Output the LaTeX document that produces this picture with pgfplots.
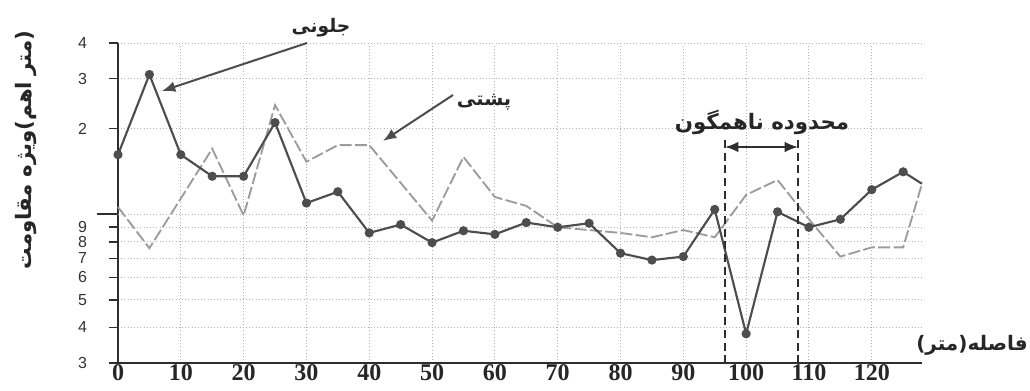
\documentclass[border=0pt]{standalone}
\usepackage{pgfplots}
\pgfplotsset{compat=1.18}
\usepackage{fontspec}
\usetikzlibrary{arrows.meta}
\TeXXeTstate=1
\setmainfont{Liberation Serif}
\newfontfamily\sansf{Liberation Sans}
\newfontfamily\arabicfont[Script=Arabic]{DejaVu Sans}
\newfontfamily\plainfont{DejaVu Sans}
\newcommand{\lp}{\hbox{\plainfont\bfseries(}}
\newcommand{\rp}{\hbox{\plainfont\bfseries)}}
\definecolor{darkline}{HTML}{4D4D4D}
\definecolor{lightline}{HTML}{9C9C9C}
\definecolor{axiscol}{HTML}{2E2E2E}
\pgfplotstableread{
x y
0 16.2
5 31
10 16.2
15 13.6
20 13.6
25 21
30 10.95
35 12
40 8.6
45 9.2
50 7.95
55 8.75
60 8.5
65 9.35
70 9.0
75 9.3
80 7.3
85 6.9
90 7.1
95 10.4
100 3.8
105 10.2
110 9.0
115 9.6
120 12.2
125 14.1
128 12.8
}\jelowi
\pgfplotstableread{
x y
0 10.6
5 7.6
15 17
20 9.9
25 24.2
30 15.3
35 17.5
40 17.5
50 9.5
55 15.9
60 11.5
65 10.7
70 9.0
75 8.8
80 8.6
85 8.3
90 8.8
95 8.3
100 11.7
105 13.2
110 9.6
115 7.1
120 7.65
125 7.65
128 12.8
}\poshti
\begin{document}
\begin{tikzpicture}
\begin{axis}[
  at={(0,0)}, anchor=south west,
  scale only axis, width=603pt, height=240pt,
  xmin=0, xmax=128, ymin=3, ymax=40, ymode=log,
  axis lines*=left,
  axis line style={line width=2.2pt, draw=axiscol},
  clip=false,
  xtick={0,10,...,120},
  xtick style={draw=none},
  ytick={3,4,5,6,7,8,9,20,30,40},
  yticklabels={3,4,5,6,7,8,9,2,3,4},
  extra y ticks={10}, extra y tick labels={},
  extra y tick style={major tick length=16pt, ytick style={line width=1.2pt, draw=axiscol}},
  ytick style={line width=1.2pt, draw=axiscol},
  tick align=outside, major tick length=7pt,
  grid=major,
  major grid style={dotted, gray!60, line width=0.7pt},
  /pgf/number format/assume math mode=true,
  xticklabel style={font=\fontsize{18}{20}\selectfont\bfseries, text=black!85, inner sep=0pt, anchor=north, yshift=6pt},
  yticklabel style={font=\sansf\fontsize{12}{14}\selectfont, text=black!80, inner sep=0pt, xshift=-16pt},
]
\addplot[lightline, line width=1.4pt, dash pattern=on 9pt off 2.5pt, mark=none] table[x=x,y=y] {\poshti};
\addplot[darkline, line width=1.6pt, mark=*, mark size=2.6pt,
  mark options={solid, fill=darkline, draw=darkline},
  mark indices={1,2,3,4,5,6,7,8,9,10,11,12,13,14,15,16,17,18,19,20,21,22,23,24,25,26}]
  table[x=x,y=y] {\jelowi};
\end{axis}
\begin{scope}[x=0.75pt, y=-0.75pt, xshift=-88.5pt, yshift=272.25pt]
  % annotation arrows
  \draw[darkline, line width=1.5pt, -{Latex[length=10pt,width=8pt]}] (307,43) -- (162,91);
  \draw[darkline, line width=1.5pt, -{Latex[length=10pt,width=8pt]}] (453,95) -- (383,141);
  \draw[axiscol, line width=1.5pt, {Latex[length=10pt,width=8pt]}-{Latex[length=10pt,width=8pt]}] (725,147) -- (798,147);
  \draw[axiscol, line width=1.3pt, dash pattern=on 6pt off 3.5pt] (725,140) -- (725,363);
  \draw[axiscol, line width=1.3pt, dash pattern=on 6pt off 3.5pt] (798,140) -- (798,363);
  % texts
  \node[font=\arabicfont\bfseries\fontsize{14}{17}\selectfont, text=black!85] at (321,28) {جلونی};
  \node[font=\arabicfont\bfseries\fontsize{14.5}{17}\selectfont, text=black!85] at (484,102) {پشتی};
  \node[font=\arabicfont\bfseries\fontsize{16}{19}\selectfont, text=black!85] at (762,122) {\beginR محدوده ناهمگون\endR};
  \node[font=\arabicfont\bfseries\fontsize{15}{18}\selectfont, text=black!85, anchor=east, inner sep=0pt] at (1028,345) {\beginR\hbox{فاصله}\rp\hbox{متر}\lp\endR};
  \node[font=\arabicfont\bfseries\fontsize{16}{18}\selectfont, text=black!85, rotate=90, inner sep=0pt] at (26,150) {\hbox{مقاومت}\hspace{0.3em}\hbox{ویژه}\lp\hbox{اهم}\hspace{0.3em}\hbox{متر}\rp};
\end{scope}
\pgfresetboundingbox
\useasboundingbox (-88.5pt,-20.25pt) rectangle (684pt,272.25pt);
\end{tikzpicture}
\end{document}
